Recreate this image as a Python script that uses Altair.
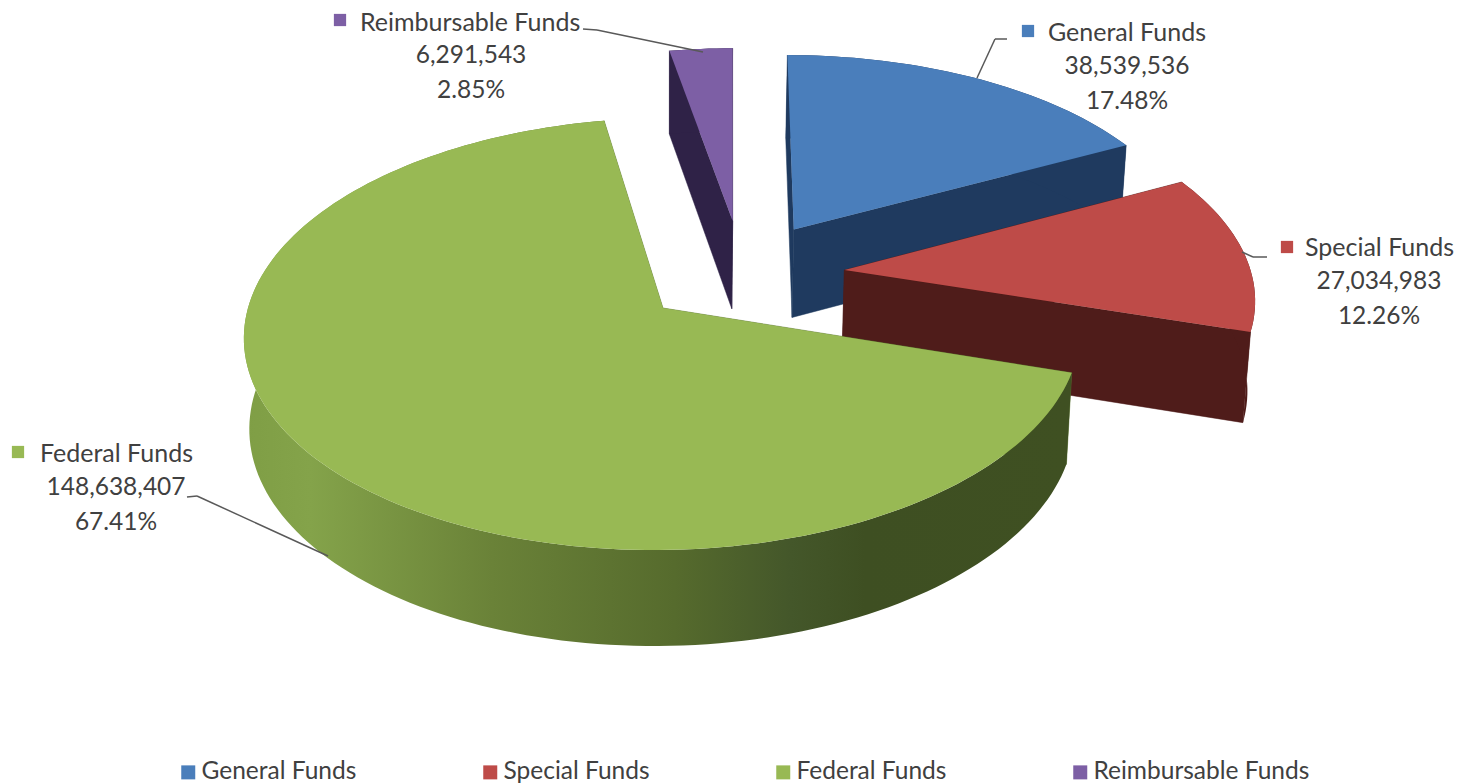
import math
import altair as alt
import pandas as pd

# Budget by fund source
names = ["General Funds", "Special Funds", "Federal Funds", "Reimbursable Funds"]
amounts = [38539536, 27034983, 148638407, 6291543]

# Colours per fund: top face, side wall
top_colors = ["#4a7ebb", "#be4b48", "#98b954", "#7d5fa5"]
wall_colors = ["#1f3a5f", "#4f1c1a", "#5b7530", "#2f2247"]

# Perspective pie: centre, radii, tilt, shear and thickness in pixels
CX, CY, RX, RY, TILT, SHEAR, DEPTH = 663, 308, 415, 212.9, 0.1204, 0.02, 90
# Explosion of each slice in the pie's own plane (unit radius)
explode = [(0.322, 0.386), (0.443, 0.182), (0.0, 0.0), (0.168, 0.43)]
# Back-to-front drawing order
paint_order = [0, 3, 1, 2]

W, H = 1464, 784
FONT = "Lato"
TEXT = "#404040"
total = sum(amounts)


def project(u, v, low=False):
    w = 1 + TILT * v
    x = CX + RX * (u + SHEAR * v) / w
    y = CY - RY * v / w
    if low:
        x = CX + (x - CX) * 0.987
        y = y + DEPTH / w ** 0.5
    return [round(x, 2), round(y, 2)]


def polygon(ring):
    return {"type": "Feature",
            "geometry": {"type": "Polygon", "coordinates": [ring + [ring[0]]]}}


def tagged(feature, name):
    feature["properties"] = {"name": name}
    return feature


# Slice boundaries, clockwise from the top
angles, run = [], 0.0
for a in amounts:
    angles.append((run, run + 360.0 * a / total))
    run += 360.0 * a / total

proj = alt.Projection(type="identity", scale=1, translate=[0, 0])
legend = alt.Legend(
    title=None, orient="none", legendX=176, legendY=760, direction="horizontal",
    columns=4, gridAlign="each", columnPadding=121, symbolType="square",
    symbolSize=196, symbolStrokeWidth=0, labelFont=FONT, labelFontSize=24.5,
    labelColor=TEXT, labelLimit=400, symbolOffset=0, labelOffset=1,
)
color = alt.Color("properties.name:N",
                  scale=alt.Scale(domain=names, range=top_colors),
                  sort=names, legend=legend)

federal_wall = alt.LinearGradient(
    gradient="linear", x1=0, x2=1, y1=0, y2=0,
    stops=[alt.GradientStop(color="#7f9e45", offset=0),
           alt.GradientStop(color="#84a34a", offset=0.08),
           alt.GradientStop(color="#6a8238", offset=0.3),
           alt.GradientStop(color="#566b2d", offset=0.52),
           alt.GradientStop(color="#44572a", offset=0.66),
           alt.GradientStop(color="#3e4f22", offset=0.75),
           alt.GradientStop(color="#3f5022", offset=1)],
)

layers = []
for i in paint_order:
    a0, a1 = angles[i]
    ou, ov = explode[i]
    steps = max(8, int((a1 - a0) / 1.5))
    rim = []
    for s in range(steps + 1):
        t = math.radians(a0 + (a1 - a0) * s / steps)
        rim.append((ou + math.sin(t), ov + math.cos(t)))
    apex = (ou, ov)
    top_ring = [project(*apex)] + [project(*p) for p in rim]
    rim_top = [project(*p) for p in rim]
    rim_low = [project(*p, low=True) for p in rim]

    fill = federal_wall if i == 2 else wall_colors[i]
    for end in (rim[0], rim[-1]):
        quad = [project(*apex), project(*end), project(*end, low=True), project(*apex, low=True)]
        layers.append(alt.Chart(alt.Data(values=[polygon(quad)]))
                      .mark_geoshape(fill=wall_colors[i], stroke=wall_colors[i], strokeWidth=0.5)
                      .project(**proj.to_dict()))
    layers.append(alt.Chart(alt.Data(values=[polygon(rim_top + rim_low[::-1])]))
                  .mark_geoshape(fill=fill, strokeWidth=0)
                  .project(**proj.to_dict()))
    layers.append(alt.Chart(alt.Data(values=[tagged(polygon(top_ring), names[i])]))
                  .mark_geoshape(strokeWidth=0)
                  .encode(color=color)
                  .project(**proj.to_dict()))

# Leader lines, one rule per segment
leaders = [
    [(583, 29), (597, 30), (703, 52)],
    [(1007, 39), (995, 39), (977, 78)],
    [(1267, 257), (1253, 257), (1242, 252)],
    [(187, 497), (197, 496), (328, 556)],
]
for path in leaders:
    for (x0, y0), (x1, y1) in zip(path, path[1:]):
        layers.append(alt.Chart(pd.DataFrame({"n": [0]}))
                      .mark_rule(color="#595959", strokeWidth=1.5)
                      .encode(x=alt.value(x0), x2=alt.value(x1), y=alt.value(y0), y2=alt.value(y1)))

# Data labels: square key, fund name, amount and share
label_layout = {
    "General Funds": dict(key=(1028, 31), name=(1048, 33), mid=1127, y=(67, 102)),
    "Special Funds": dict(key=(1287, 247), name=(1305, 248), mid=1379, y=(282, 317)),
    "Federal Funds": dict(key=(18, 452), name=(40, 454), mid=116, y=(488, 523)),
    "Reimbursable Funds": dict(key=(340, 20), name=(360, 23), mid=471, y=(56, 91)),
}


def text_layer(s, x, y, align, size):
    return (alt.Chart(pd.DataFrame({"t": [s]}))
            .mark_text(font=FONT, fontSize=size, color=TEXT, align=align, baseline="middle")
            .encode(text="t:N", x=alt.value(x), y=alt.value(y)))


for i, name in enumerate(names):
    lay = label_layout[name]
    layers.append(alt.Chart(pd.DataFrame({"n": [name]}))
                  .mark_square(size=150, opacity=1, color=top_colors[i])
                  .encode(x=alt.value(lay["key"][0]), y=alt.value(lay["key"][1])))
    layers.append(text_layer(name, lay["name"][0], lay["name"][1], "left", 25))
    layers.append(text_layer(f"{amounts[i]:,}", lay["mid"], lay["y"][0], "center", 24.5))
    layers.append(text_layer(f"{100 * amounts[i] / total:.2f}%", lay["mid"], lay["y"][1], "center", 24.5))

chart = (alt.layer(*layers)
         .properties(width=W, height=H, padding=0, autosize=alt.AutoSizeParams(type="none"),
                     background="#ffffff")
         .configure_view(stroke=None))

chart.save("out.html", embed_options={"renderer": "svg", "actions": False})
